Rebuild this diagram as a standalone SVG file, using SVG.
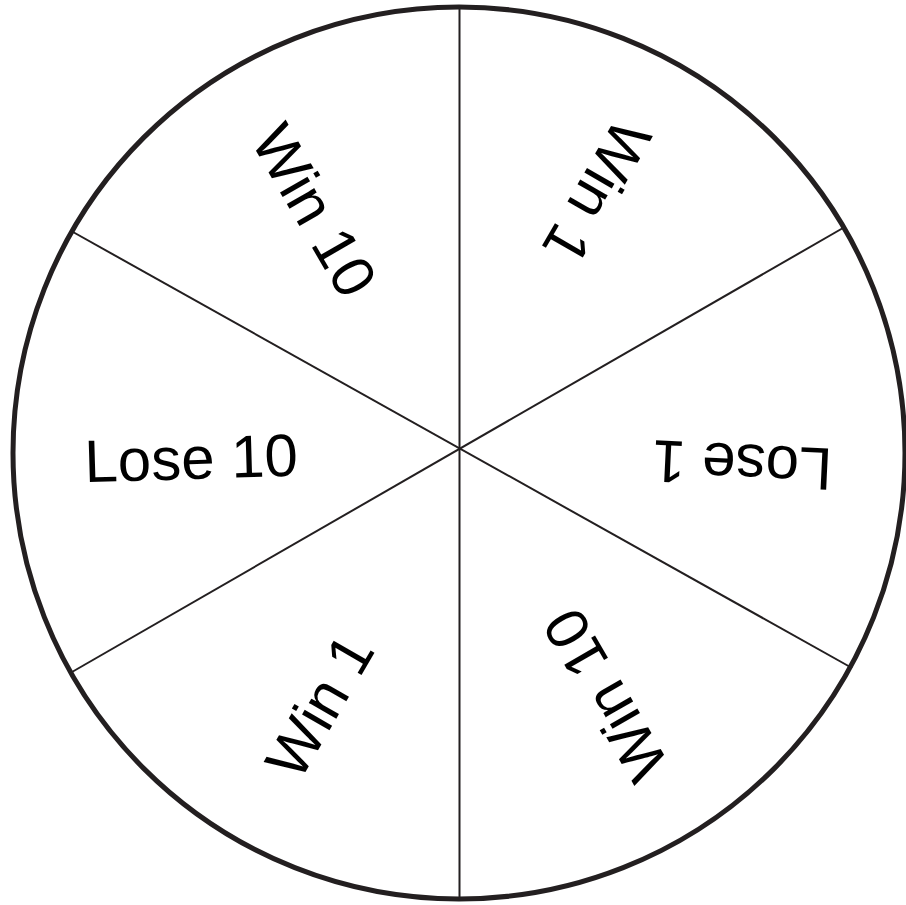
<svg xmlns="http://www.w3.org/2000/svg" width="906" height="905" viewBox="0 0 906 905">
<style>
.rim{fill:#fff;stroke:#231f20;stroke-width:5}
.spoke{stroke:#231f20;stroke-width:2;fill:none}
.lbl{font-family:"Liberation Sans",Arial,sans-serif;font-size:60px;fill:#000;text-anchor:middle}
</style>
<rect width="906" height="905" fill="#fff"/>
<g id="wheel"><circle class="rim" cx="459" cy="453" r="446"/></g>
<g id="connectors">
<line class="spoke" x1="459.5" y1="8" x2="459.5" y2="899"/>
<line class="spoke" x1="73" y1="232" x2="852" y2="668"/>
<line class="spoke" x1="843" y1="228" x2="72" y2="672"/>
</g>
<g id="lose10"><text class="lbl" transform="translate(191,457.5) rotate(-1.7)" x="0" y="21.5">Lose 10</text></g>
<g id="lose1"><text class="lbl" transform="translate(742,466) rotate(182.7)" x="0" y="21.5">Lose 1</text></g>
<g id="win10a"><text class="lbl" transform="translate(315,210) rotate(60)" x="0" y="21.5">Win 10</text></g>
<g id="win1a"><text class="lbl" transform="translate(597.5,192.5) rotate(120)" x="0" y="21.5">Win 1</text></g>
<g id="win1b"><text class="lbl" transform="translate(319,705.7) rotate(-60)" x="0" y="21.5">Win 1</text></g>
<g id="win10b"><text class="lbl" transform="translate(605,695.5) rotate(240)" x="0" y="21.5">Win 10</text></g>
</svg>
